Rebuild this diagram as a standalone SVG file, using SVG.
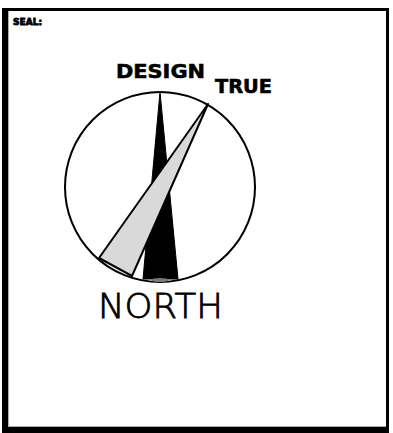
<svg xmlns="http://www.w3.org/2000/svg" width="393" height="433" viewBox="0 0 393 433">
<style>
.lbl{font-family:"DejaVu Sans","Liberation Sans",sans-serif;font-weight:bold;fill:#000}
.thin{font-family:"DejaVu Sans","Liberation Sans",sans-serif;font-weight:200;fill:#000}
</style>
<rect x="0" y="0" width="393" height="433" fill="#fff"/>
<g id="frame">
<path d="M2 8 H389 V433 H2 Z M8 11 V427 H386 V11 Z" fill="#000" fill-rule="evenodd"/>
<path d="M8.5 11 V426.5 H386" fill="none" stroke="#aaa" stroke-width="1"/>
</g>
<text class="lbl" x="13" y="25" font-size="9" textLength="29" lengthAdjust="spacingAndGlyphs" stroke="#000" stroke-width="0.8">SEAL:</text>
<g id="compass">
<circle cx="160" cy="187" r="95" fill="#fff" stroke="#000" stroke-width="2"/>
</g>
<g id="design-north">
<polygon points="160,92 143,279 178,279" fill="#000" stroke="#000" stroke-width="1"/>
<ellipse cx="160" cy="280" rx="9" ry="2" fill="#777"/>
</g>
<g id="true-north">
<polygon points="208,104 99,258 132,276" fill="#d9d9d9" stroke="#000" stroke-width="2" stroke-linejoin="round"/>
</g>
<g id="labels">
<text class="lbl" x="116" y="78" font-size="20" textLength="89" lengthAdjust="spacingAndGlyphs" stroke="#000" stroke-width="0.6">DESIGN</text>
<text class="lbl" x="215" y="93" font-size="19" textLength="57" lengthAdjust="spacingAndGlyphs" stroke="#000" stroke-width="0.6">TRUE</text>
<text class="thin" x="98" y="318" font-size="34" textLength="125" lengthAdjust="spacingAndGlyphs" stroke="#000" stroke-width="0.8">NORTH</text>
</g>
</svg>
